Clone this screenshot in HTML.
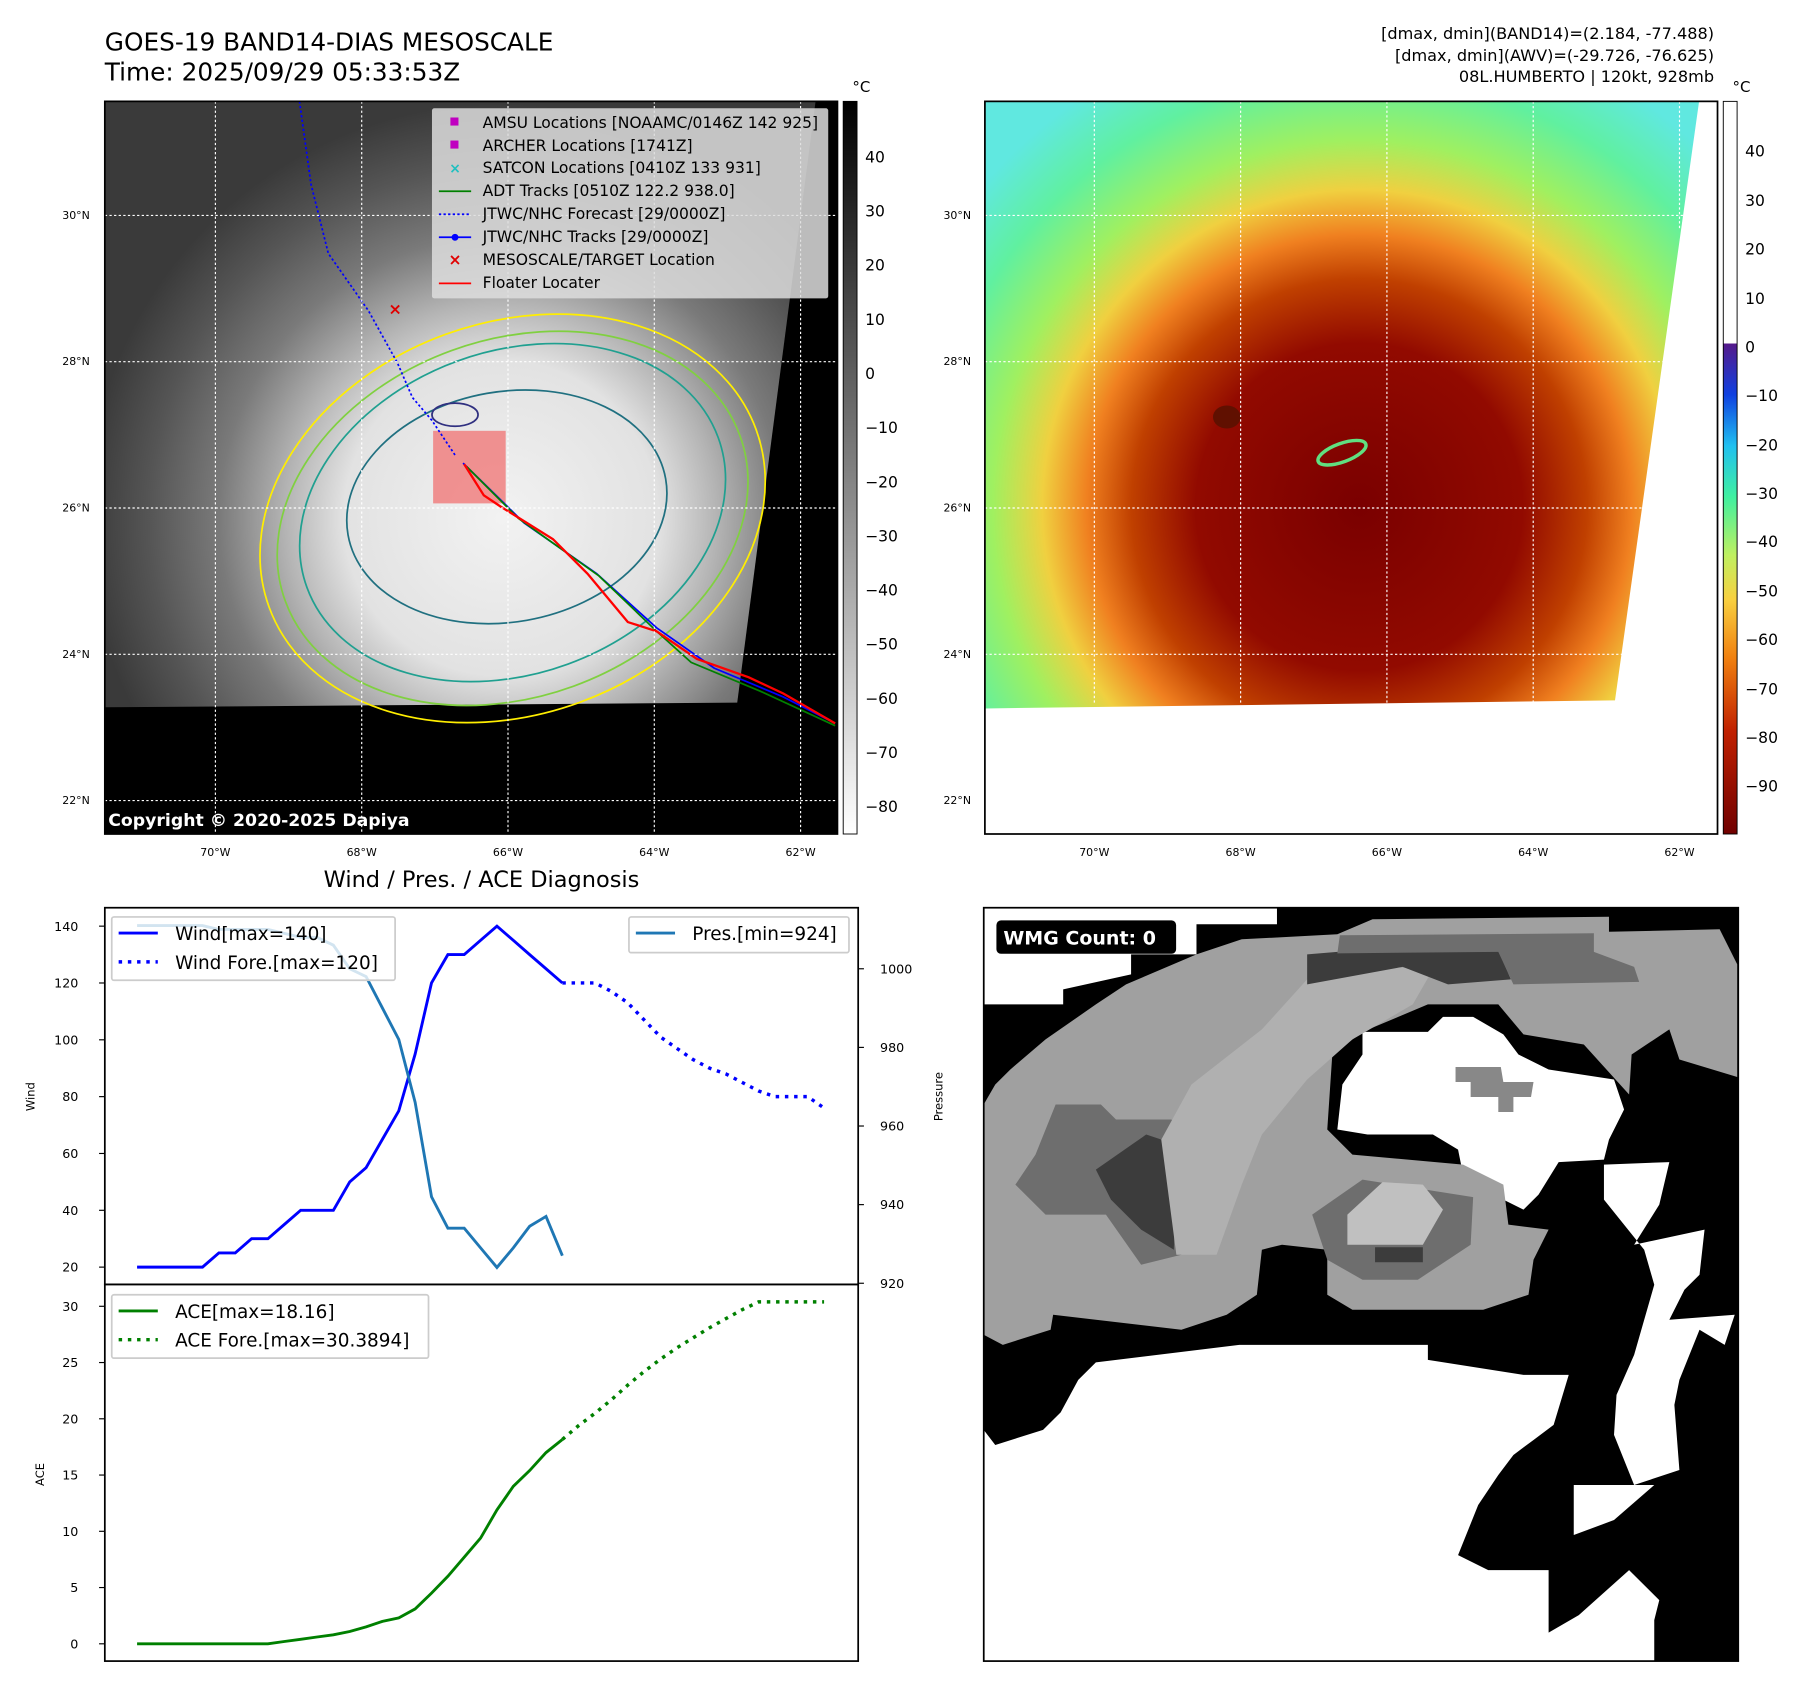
<!DOCTYPE html>
<html><head><meta charset="utf-8"><style>
html,body{margin:0;padding:0;background:#fff;}
svg{display:block;font-family:"DejaVu Sans","Liberation Sans",sans-serif;}
</style></head><body>
<svg id="root" width="1797" height="1690" viewBox="0 0 1560 1467.1" preserveAspectRatio="none" xmlns="http://www.w3.org/2000/svg">
<defs>
<radialGradient id="gsat" gradientUnits="userSpaceOnUse" cx="435" cy="450" r="360">
<stop offset="0" stop-color="#f2f2f2"/><stop offset="0.38" stop-color="#e2e2e2"/><stop offset="0.52" stop-color="#b4b4b4"/><stop offset="0.68" stop-color="#7a7a7a"/><stop offset="0.85" stop-color="#555"/><stop offset="1" stop-color="#3a3a3a"/>
</radialGradient>
<radialGradient id="gcol" gradientUnits="userSpaceOnUse" cx="1180" cy="440" r="430">
<stop offset="0" stop-color="#7a0000"/><stop offset="0.33" stop-color="#920a00"/><stop offset="0.46" stop-color="#c04000"/><stop offset="0.55" stop-color="#f08020"/><stop offset="0.64" stop-color="#f0d040"/><stop offset="0.74" stop-color="#a0f060"/><stop offset="0.87" stop-color="#60f0a0"/><stop offset="1" stop-color="#60e8e0"/>
</radialGradient>
<linearGradient id="cbgray" x1="0" y1="1" x2="0" y2="0"><stop offset="0" stop-color="#fff"/><stop offset="1" stop-color="#000"/></linearGradient>
<linearGradient id="cbcol" x1="0" y1="0" x2="0" y2="1">
<stop offset="0" stop-color="#fff"/><stop offset="0.33" stop-color="#fff"/><stop offset="0.331" stop-color="#551a8b"/><stop offset="0.4" stop-color="#1040e0"/><stop offset="0.47" stop-color="#20c0f0"/><stop offset="0.54" stop-color="#40f0a0"/><stop offset="0.62" stop-color="#c0f060"/><stop offset="0.68" stop-color="#f8d040"/><stop offset="0.76" stop-color="#f08010"/><stop offset="0.86" stop-color="#c02000"/><stop offset="1" stop-color="#700000"/>
</linearGradient>
<clipPath id="clipTL"><rect x="91" y="88" width="636" height="636"/></clipPath>
<clipPath id="clipTR"><polygon points="855,88 1475,88 1402,608 855,615"/></clipPath>
<clipPath id="clipBR"><rect x="854" y="788" width="655" height="654"/></clipPath>
</defs>

<text x="91" y="44" font-size="21.5">GOES-19 BAND14-DIAS MESOSCALE</text>
<text x="91" y="70" font-size="21.5">Time: 2025/09/29 05:33:53Z</text>
<g font-size="14" text-anchor="end">
<text x="1488" y="34">[dmax, dmin](BAND14)=(2.184, -77.488)</text>
<text x="1488" y="53">[dmax, dmin](AWV)=(-29.726, -76.625)</text>
<text x="1488" y="71">08L.HUMBERTO | 120kt, 928mb</text>
</g>

<g clip-path="url(#clipTL)">
<rect x="91" y="88" width="636" height="636" fill="#000"/>
<polygon points="91,88 708,88 640,610 91,614" fill="url(#gsat)"/>
<g fill="none" stroke-width="1.5">
<ellipse cx="445" cy="450" rx="225" ry="170" stroke="#ffee00" transform="rotate(-20 445 450)"/>
<ellipse cx="445" cy="450" rx="210" ry="155" stroke="#80d040" transform="rotate(-20 445 450)"/>
<ellipse cx="445" cy="445" rx="190" ry="140" stroke="#20a090" transform="rotate(-20 445 445)"/>
<ellipse cx="440" cy="440" rx="140" ry="100" stroke="#207080" transform="rotate(-10 440 440)"/>
<ellipse cx="395" cy="360" rx="20" ry="10" stroke="#303080"/>
</g>
<rect x="376" y="374" width="63" height="63" fill="#f08080" opacity="0.85"/>
<polyline points="260,88 270,160 285,220 320,270 345,315 358,345 375,365 395,395" fill="none" stroke="#0000ff" stroke-width="1.5" stroke-dasharray="2,2"/>
<polyline points="402,402 455,454 518,498 570,545 620,580 680,605 725,628" fill="none" stroke="#0000ff" stroke-width="1.5"/>
<polyline points="405,405 450,450 520,500 570,548 600,575 660,600 725,630" fill="none" stroke="#008000" stroke-width="1.5"/>
<polyline points="403,403 420,430 435,440 480,468 510,498 545,540 570,548 605,572 650,588 680,602 725,628" fill="none" stroke="#ff0000" stroke-width="2"/>
<text x="343" y="273" font-size="14" fill="#e00000" text-anchor="middle" font-weight="bold">×</text>
<g stroke="#fff" stroke-width="1" stroke-dasharray="2,2">
<line x1="187" y1="88" x2="187" y2="724"/><line x1="314" y1="88" x2="314" y2="724"/><line x1="441" y1="88" x2="441" y2="724"/><line x1="568" y1="88" x2="568" y2="724"/><line x1="695" y1="88" x2="695" y2="724"/>
<line x1="91" y1="187" x2="727" y2="187"/><line x1="91" y1="314" x2="727" y2="314"/><line x1="91" y1="441" x2="727" y2="441"/><line x1="91" y1="568" x2="727" y2="568"/><line x1="91" y1="695" x2="727" y2="695"/>
</g>
<text x="94" y="717" font-size="15" fill="#fff" font-weight="bold">Copyright © 2020-2025 Dapiya</text>
<g font-size="13.5">
<rect x="375" y="94" width="344" height="165" fill="#ddd" opacity="0.85" rx="2"/>
<rect x="391" y="102" width="7" height="7" fill="#c000c0"/><text x="419" y="111">AMSU Locations [NOAAMC/0146Z 142 925]</text>
<rect x="391" y="122" width="7" height="7" fill="#c000c0"/><text x="419" y="131">ARCHER Locations [1741Z]</text>
<text x="395" y="150" fill="#20c0c0" text-anchor="middle" font-size="12" font-weight="bold">×</text><text x="419" y="150">SATCON Locations [0410Z 133 931]</text>
<line x1="381" y1="166" x2="409" y2="166" stroke="#008000" stroke-width="1.5"/><text x="419" y="170">ADT Tracks [0510Z 122.2 938.0]</text>
<line x1="381" y1="186" x2="409" y2="186" stroke="#0000ff" stroke-width="1.5" stroke-dasharray="2,2"/><text x="419" y="190">JTWC/NHC Forecast [29/0000Z]</text>
<line x1="381" y1="206" x2="409" y2="206" stroke="#0000ff" stroke-width="1.5"/><circle cx="395" cy="206" r="3" fill="#0000ff"/><text x="419" y="210">JTWC/NHC Tracks [29/0000Z]</text>
<text x="395" y="230" fill="#e00000" text-anchor="middle" font-weight="bold">×</text><text x="419" y="230">MESOSCALE/TARGET Location</text>
<line x1="381" y1="246" x2="409" y2="246" stroke="#ff0000" stroke-width="1.5"/><text x="419" y="250">Floater Locater</text>
</g>
</g>
<rect x="91" y="88" width="636" height="636" fill="none" stroke="#000" stroke-width="1.5"/>
<g font-size="9.5" text-anchor="middle">
<text x="187" y="743">70°W</text><text x="314" y="743">68°W</text><text x="441" y="743">66°W</text><text x="568" y="743">64°W</text><text x="695" y="743">62°W</text>
<text x="66" y="190">30°N</text><text x="66" y="317">28°N</text><text x="66" y="444">26°N</text><text x="66" y="571">24°N</text><text x="66" y="698">22°N</text>
<text x="950" y="743">70°W</text><text x="1077" y="743">68°W</text><text x="1204" y="743">66°W</text><text x="1331" y="743">64°W</text><text x="1458" y="743">62°W</text>
<text x="831" y="190">30°N</text><text x="831" y="317">28°N</text><text x="831" y="444">26°N</text><text x="831" y="571">24°N</text><text x="831" y="698">22°N</text>
</g>
<g>
<rect x="732" y="88" width="12" height="636" fill="url(#cbgray)" stroke="#000" stroke-width="0.8"/>
<text x="740" y="80" font-size="13">°C</text>
<g font-size="13.5">
<text x="751" y="141">40</text><text x="751" y="188">30</text><text x="751" y="235">20</text><text x="751" y="282">10</text><text x="751" y="329">0</text><text x="751" y="376">−10</text><text x="751" y="423">−20</text><text x="751" y="470">−30</text><text x="751" y="517">−40</text><text x="751" y="564">−50</text><text x="751" y="611">−60</text><text x="751" y="658">−70</text><text x="751" y="705">−80</text>
</g></g>

<g>
<g clip-path="url(#clipTR)">
<rect x="855" y="88" width="620" height="530" fill="url(#gcol)"/>
<ellipse cx="1165" cy="393" rx="22" ry="8" fill="none" stroke="#60e080" stroke-width="3" transform="rotate(-20 1165 393)"/>
<ellipse cx="1065" cy="362" rx="12" ry="10" fill="#601000"/>
</g>
<g stroke="#fff" stroke-width="1" stroke-dasharray="2,2">
<line x1="950" y1="88" x2="950" y2="612"/><line x1="1077" y1="88" x2="1077" y2="612"/><line x1="1204" y1="88" x2="1204" y2="612"/><line x1="1331" y1="88" x2="1331" y2="612"/><line x1="1458" y1="88" x2="1458" y2="200"/>
<line x1="855" y1="187" x2="1462" y2="187"/><line x1="855" y1="314" x2="1445" y2="314"/><line x1="855" y1="441" x2="1428" y2="441"/><line x1="855" y1="568" x2="1408" y2="568"/>
</g>
<rect x="855" y="88" width="636" height="636" fill="none" stroke="#000" stroke-width="1.5"/>
</g>
<g>
<rect x="1496" y="88" width="12" height="636" fill="url(#cbcol)" stroke="#000" stroke-width="0.8"/>
<text x="1504" y="80" font-size="13">°C</text>
<g font-size="13.5">
<text x="1515" y="136">40</text><text x="1515" y="179">30</text><text x="1515" y="221">20</text><text x="1515" y="264">10</text><text x="1515" y="306">0</text><text x="1515" y="348">−10</text><text x="1515" y="391">−20</text><text x="1515" y="433">−30</text><text x="1515" y="475">−40</text><text x="1515" y="518">−50</text><text x="1515" y="560">−60</text><text x="1515" y="603">−70</text><text x="1515" y="645">−80</text><text x="1515" y="687">−90</text>
</g></g>

<g>
<rect x="854" y="788" width="655" height="654" fill="#fff"/>
<g clip-path="url(#clipBR)">
<g transform="translate(850.9,785) scale(0.4367,0.4346)">
<rect x="7" y="7" width="1500" height="1505" fill="#000"/>
<polygon fill="#fff" points="7,7 590,7 590,40 430,40 430,100 300,100 300,140 165,170 165,200 7,200"/>
<polygon fill="#fff" points="7,1050 30,1080 125,1050 160,1015 195,950 230,915 515,880 890,880 890,910 1080,940 1170,940 1140,1040 1100,1070 1060,1100 1030,1140 990,1200 950,1300 1010,1330 1130,1330 1130,1455 1190,1420 1290,1330 1350,1390 1340,1430 1340,1512 7,1512"/>
<polygon fill="#fff" points="1240,520 1370,515 1350,600 1300,680 1440,650 1430,740 1400,770 1370,830 1500,820 1480,880 1430,850 1390,950 1380,1000 1390,1130 1300,1160 1260,1060 1265,980 1300,900 1340,760 1320,690 1240,590"/>
<polygon fill="#fff" points="1180,1160 1340,1160 1260,1230 1180,1260"/>
<polygon fill="#fff" points="720,360 760,300 760,255 890,255 920,225 980,225 1040,260 1070,300 1130,330 1260,350 1280,410 1250,470 1240,510 1150,515 1110,580 1080,610 1020,580 960,540 950,490 900,460 770,460 710,450"/>
<polygon fill="#a0a0a0" points="7,400 30,360 60,330 130,270 230,200 290,160 430,100 520,70 710,60 780,30 1250,25 1250,55 1470,50 1505,120 1505,345 1390,310 1370,250 1295,300 1290,380 1200,280 1080,260 1030,200 890,200 760,255 700,300 690,450 740,500 960,520 1040,560 1050,640 1130,650 1100,710 1090,780 1000,810 740,810 690,780 690,690 600,680 560,690 550,780 490,820 400,850 145,820 140,850 45,880 7,860"/>
<polygon fill="#6e6e6e" points="70,560 110,500 150,400 240,400 270,430 380,430 420,460 400,700 320,720 250,620 130,620"/>
<polygon fill="#3c3c3c" points="230,530 330,460 390,480 385,690 320,650 260,590"/>
<polygon fill="#b0b0b0" points="360,470 420,360 560,250 650,150 720,120 900,130 860,200 740,270 650,350 560,460 520,560 470,700 390,700"/>
<polygon fill="#3c3c3c" points="710,95 1030,92 1055,150 930,160 840,125 650,160 650,100"/>
<polygon fill="#6e6e6e" points="715,62 1220,58 1220,95 1300,125 1310,155 1060,160 1030,95 710,98"/>
<polygon fill="#6e6e6e" points="660,620 760,550 980,585 975,680 870,750 760,750 690,710"/>
<polygon fill="#c0c0c0" points="730,620 800,555 880,560 920,610 880,680 730,680"/>
<polygon fill="#3c3c3c" points="785,685 880,685 880,715 785,715"/>
<polygon fill="#888" points="945,325 1035,325 1040,355 1100,355 1095,385 1060,385 1060,415 1030,415 1030,385 975,385 975,355 945,355"/>
</g>
</g>
<rect x="865" y="799" width="156" height="29" rx="4" fill="#000"/>
<text x="871" y="820" font-size="16.5" font-weight="bold" fill="#fff">WMG Count: 0</text>
<rect x="854" y="788" width="655" height="654" fill="none" stroke="#000" stroke-width="1.5"/>
</g>

<text x="418" y="770" font-size="19.5" text-anchor="middle">Wind / Pres. / ACE Diagnosis</text>
<g id="charts"></g>
</svg>
<script>
const windObs = [20,20,20,20,20,25,25,30,30,35,40,40,40,50,55,65,75,95,120,130,130,135,140,135,130,125,120];
const windFore = [120,120,120,117,113,107,101,97,93,90,88,85,82,80,80,80,76];
const presObs = [1011,1011,1011,1011,1011,1010,1010,1010,1010,1009,1008,1008,1006,1000,998,990,982,966,942,934,934,929,924,929,934.5,937,927];
const aceObs = [0,0,0,0,0,0,0,0,0,0.2,0.4,0.6,0.8,1.1,1.5,2.0,2.3,3.1,4.5,6.0,7.7,9.4,11.9,14.0,15.4,17.0,18.16];
const aceFore = [18.16,19.4,20.5,21.7,23,24.2,25.3,26.3,27.2,28.1,28.9,29.7,30.39,30.39,30.39,30.39,30.39];
const windTicks = [20,40,60,80,100,120,140];
const presTicks = [920,940,960,980,1000];
const aceTicks = [0,5,10,15,20,25,30];

const NS='http://www.w3.org/2000/svg';
const g=document.getElementById('charts');
function el(t,a,p){const e=document.createElementNS(NS,t);for(const k in a)e.setAttribute(k,a[k]);(p||g).appendChild(e);return e;}
const xS=i=>119+i*14.2;
const yW=v=>1100-(v-20)*296/120;
const yP=v=>1114-(v-920)*273/80;
const yA=v=>1427-v*293/30;
const fs=windObs.length-1;
function pts(arr,off,ys){return arr.map((v,i)=>xS(i+off).toFixed(1)+','+ys(v).toFixed(1)).join(' ');}

let f1=el('rect',{x:91,y:788,width:654,height:327,fill:'none',stroke:'#000','stroke-width':1.5});

let f2=el('rect',{x:91,y:1115,width:654,height:327,fill:'none',stroke:'#000','stroke-width':1.5});


windTicks.forEach(v=>{const y=yW(v);el('line',{x1:86,y1:y,x2:91,y2:y,stroke:'#000'});const t=el('text',{x:68,y:y+4,'font-size':11,'text-anchor':'end'});t.textContent=v;
});
presTicks.forEach(v=>{const y=yP(v);el('line',{x1:745,y1:y,x2:750,y2:y,stroke:'#000'});const t=el('text',{x:764,y:y+4,'font-size':11});t.textContent=v;
});
aceTicks.forEach(v=>{const y=yA(v);el('line',{x1:86,y1:y,x2:91,y2:y,stroke:'#000'});const t=el('text',{x:68,y:y+4,'font-size':11,'text-anchor':'end'});t.textContent=v;
});
let yl=el('text',{x:0,y:0,'font-size':10,'text-anchor':'middle',transform:'translate(30,952) rotate(-90)'});yl.textContent='Wind';

let pl=el('text',{x:0,y:0,'font-size':10,'text-anchor':'middle',transform:'translate(818,952) rotate(-90)'});pl.textContent='Pressure';

let al=el('text',{x:0,y:0,'font-size':10,'text-anchor':'middle',transform:'translate(38,1280) rotate(-90)'});al.textContent='ACE';


let l1=el('polyline',{points:pts(windObs,0,yW),fill:'none',stroke:'#0000ff','stroke-width':2.5});

let l2=el('polyline',{points:pts(windFore,fs,yW),fill:'none',stroke:'#0000ff','stroke-width':3,'stroke-dasharray':'3,5'});

let l3=el('polyline',{points:pts(presObs,0,yP),fill:'none',stroke:'#1f77b4','stroke-width':2.5});

let l4=el('polyline',{points:pts(aceObs,0,yA),fill:'none',stroke:'#008000','stroke-width':2.5});

let l5=el('polyline',{points:pts(aceFore,fs,yA),fill:'none',stroke:'#008000','stroke-width':3,'stroke-dasharray':'3,5'});


function legend(x,y,w,h,items,name){
  const lg=el('g',{});
  
  
  el('rect',{x:x,y:y,width:w,height:h,fill:'#fff','fill-opacity':0.8,stroke:'#ccc','stroke-width':1.5,rx:2},lg);
  items.forEach((it,i)=>{const cy=y+14+i*25;
    el('line',{x1:x+6,y1:cy,x2:x+40,y2:cy,stroke:it.c,'stroke-width':it.d?3:2.5,'stroke-dasharray':it.d?'3,5':'none'},lg);
    const t=el('text',{x:x+55,y:cy+6,'font-size':16},lg);t.textContent=it.t;});
}
legend(97,796,246,55,[{c:'#0000ff',t:'Wind[max=140]'},{c:'#0000ff',d:1,t:'Wind Fore.[max=120]'}],'wind-legend');
legend(546,796,191,31,[{c:'#1f77b4',t:'Pres.[min=924]'}],'pressure-legend');
legend(97,1124,275,55,[{c:'#008000',t:'ACE[max=18.16]'},{c:'#008000',d:1,t:'ACE Fore.[max=30.3894]'}],'ace-legend');
</script>
</body></html>
